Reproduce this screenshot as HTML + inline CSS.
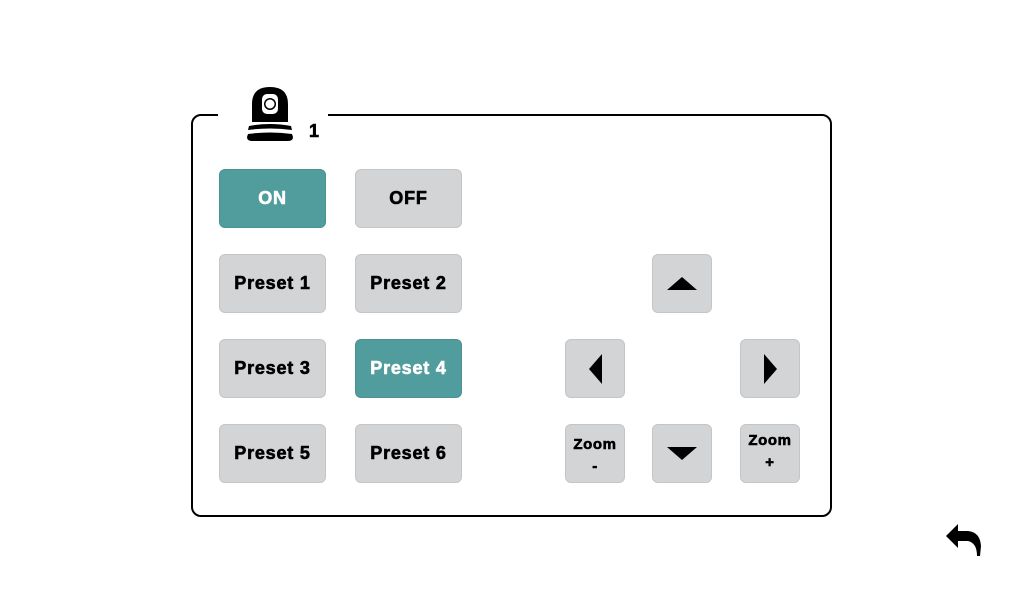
<!DOCTYPE html>
<html><head><style>
body{margin:0;width:1024px;height:600px;background:#fff;position:relative;overflow:hidden;font-family:"Liberation Sans",Arial,sans-serif;}
.frame{position:absolute;left:191px;top:114px;width:637px;height:399px;border:2px solid #000;border-radius:10px;}
.gap{position:absolute;left:218px;top:110px;width:110px;height:10px;background:#fff;}
.b{position:absolute;width:107px;height:59px;background:#d3d4d6;border:1px solid #c4c5c7;border-radius:6px;box-sizing:border-box;display:flex;align-items:center;justify-content:center;font-weight:bold;font-size:18px;letter-spacing:0.8px;-webkit-text-stroke:0.6px #000;color:#000;}
.t{background:#519c9d;border-color:#4a9192;color:#fff;-webkit-text-stroke:0.6px #fff;}
.s{width:60px;}
.z{font-size:15px;line-height:22px;flex-direction:column;text-align:center;letter-spacing:0.6px;}
.tri{width:0;height:0;}
</style></head><body>
<div class="frame"></div>
<div class="gap"></div>
<svg style="position:absolute;left:246px;top:84px" width="52" height="60">
<path d="M6 38 L6 20 Q6 3 24 3 Q42 3 42 20 L42 38 Z" fill="#000"/>
<rect x="16" y="10" width="16" height="20" rx="5" fill="#fff"/>
<circle cx="24" cy="20" r="6" fill="#000"/>
<circle cx="24" cy="20" r="4.5" fill="#fff"/>
<path d="M3 42 Q24 38 45 42 L46 46 Q24 43 2 46 Z" fill="#000"/>
<path d="M2 50 Q24 47 46 50 L47 53 Q47 57 42 57 L6 57 Q1 57 1 53 Z" fill="#000"/>
</svg>
<div style="position:absolute;left:309px;top:121px;font-weight:bold;font-size:18px;-webkit-text-stroke:0.6px #000">1</div>
<div class="b t" style="left:219px;top:169px">ON</div>
<div class="b" style="left:355px;top:169px">OFF</div>
<div class="b" style="left:219px;top:254px">Preset 1</div>
<div class="b" style="left:355px;top:254px">Preset 2</div>
<div class="b" style="left:219px;top:339px">Preset 3</div>
<div class="b t" style="left:355px;top:339px">Preset 4</div>
<div class="b" style="left:219px;top:424px">Preset 5</div>
<div class="b" style="left:355px;top:424px">Preset 6</div>
<div class="b s" style="left:652px;top:254px"><div class="tri" style="border-left:15px solid transparent;border-right:15px solid transparent;border-bottom:13px solid #000"></div></div>
<div class="b s" style="left:565px;top:339px"><div class="tri" style="border-top:15px solid transparent;border-bottom:15px solid transparent;border-right:13px solid #000"></div></div>
<div class="b s" style="left:740px;top:339px"><div class="tri" style="border-top:15px solid transparent;border-bottom:15px solid transparent;border-left:13px solid #000"></div></div>
<div class="b s z" style="left:565px;top:424px;padding-top:4px">Zoom<br>-</div>
<div class="b s" style="left:652px;top:424px"><div class="tri" style="border-left:15px solid transparent;border-right:15px solid transparent;border-top:13px solid #000"></div></div>
<div class="b s z" style="left:740px;top:424px;justify-content:flex-start;padding-top:5px">Zoom<br>+</div>
<svg style="position:absolute;left:944px;top:520px" width="42" height="38">
<path d="M2 16 L14 4 L14 11 L24 11 Q36 12 37 26 L36 36 L33 36 Q33 23 24 21 L14 21 L14 28 Z" fill="#000"/>
</svg>
</body></html>
